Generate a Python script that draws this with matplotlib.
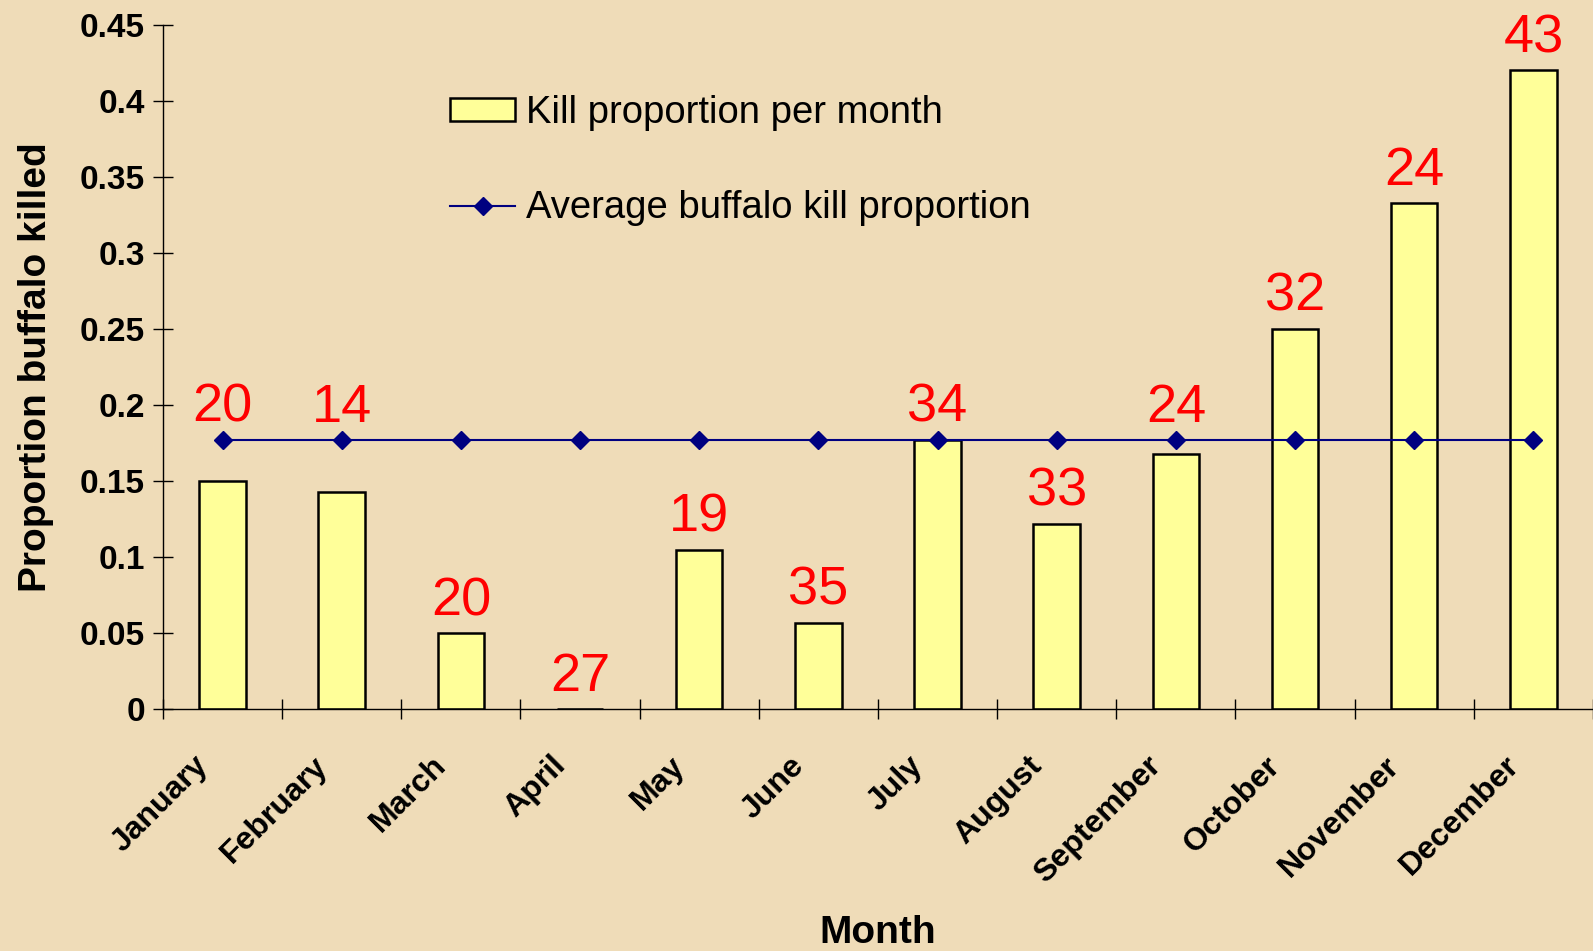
import numpy as np
import matplotlib
matplotlib.use('Agg')
import matplotlib.pyplot as plt
from matplotlib.lines import Line2D
from matplotlib.patches import Patch
from matplotlib.transforms import ScaledTranslation

plt.rcParams['font.family'] = ['Liberation Sans', 'DejaVu Sans']

# Data
months = ['January', 'February', 'March', 'April', 'May', 'June',
          'July', 'August', 'September', 'October', 'November', 'December']
kill_prop = [0.150, 0.143, 0.050, 0.0, 0.105, 0.057,
             0.177, 0.122, 0.168, 0.250, 0.333, 0.420]
sample_n = [20, 14, 20, 27, 19, 35, 34, 33, 24, 32, 24, 43]
avg_prop = 0.177
yticks = [0, 0.05, 0.1, 0.15, 0.2, 0.25, 0.3, 0.35, 0.4, 0.45]
ytick_labels = ['0', '0.05', '0.1', '0.15', '0.2', '0.25', '0.3', '0.35', '0.4', '0.45']

BG = '#EFDCB8'
BAR_FILL = '#FFFF99'
NAVY = '#000080'

fig = plt.figure(figsize=(15.93, 9.51), dpi=100, facecolor=BG)
ax = fig.add_axes([0.1023, 0.2542, 0.8977, 0.7198])
ax.set_facecolor(BG)

x = np.arange(len(months))
ax.bar(x, kill_prop, width=0.39, color=BAR_FILL, edgecolor='black', linewidth=1.8, zorder=2)
ax.plot(x, [avg_prop] * len(months), color=NAVY, linewidth=1.5, marker='D',
        markersize=9, zorder=3)

# sample size labels, lifted above the average line when they would clash with it
for xi, v, n in zip(x, kill_prop, sample_n):
    base = avg_prop if (v > avg_prop - 0.04) else v
    base = max(base, v)
    ax.annotate(str(n), (xi, base), xytext=(0, 13), textcoords='offset points',
                ha='center', va='baseline', color='red', fontsize=39, zorder=4)

ax.set_xlim(-0.5, len(months) - 0.5)
ax.set_ylim(0, 0.45)
ax.set_yticks(yticks)
ax.set_yticklabels(ytick_labels, fontsize=24, fontweight='bold')
ax.tick_params(axis='y', direction='inout', length=14, width=1, pad=6)

# month names drawn as text so they can sit a little left of the category centre
ax.set_xticks(np.arange(-0.5, len(months), 1.0))
ax.set_xticklabels([])
ax.tick_params(axis='x', direction='inout', length=14, width=1)
label_tf = ax.get_xaxis_transform() + ScaledTranslation(-0.19, -0.52, fig.dpi_scale_trans)
for xi, m in zip(x, months):
    ax.text(xi, 0, m, transform=label_tf, rotation=45, ha='right', va='center',
            rotation_mode='anchor', fontsize=23, fontweight='bold', clip_on=False)

for side in ('top', 'right'):
    ax.spines[side].set_visible(False)
ax.spines['left'].set_linewidth(1)
ax.spines['bottom'].set_linewidth(1)

ax.set_ylabel('Proportion buffalo killed', fontsize=28, fontweight='bold')
ax.yaxis.set_label_coords(-0.076, 0.5)
ax.set_xlabel('Month', fontsize=28, fontweight='bold')
ax.xaxis.set_label_coords(0.5, -0.3)

handles = [Patch(facecolor=BAR_FILL, edgecolor='black', linewidth=1.8),
           Line2D([0], [0], color=NAVY, linewidth=1.5, marker='D', markersize=9)]
fig.legend(handles, ['Kill proportion per month', 'Average buffalo kill proportion'],
           loc='upper left', bbox_to_anchor=(0.2825, 0.900), frameon=False,
           fontsize=27.5, borderpad=0, borderaxespad=0, labelspacing=1.55,
           handlelength=1.71, handleheight=0.58, handletextpad=0.29)

fig.savefig('out.png', dpi=100, facecolor=BG)
